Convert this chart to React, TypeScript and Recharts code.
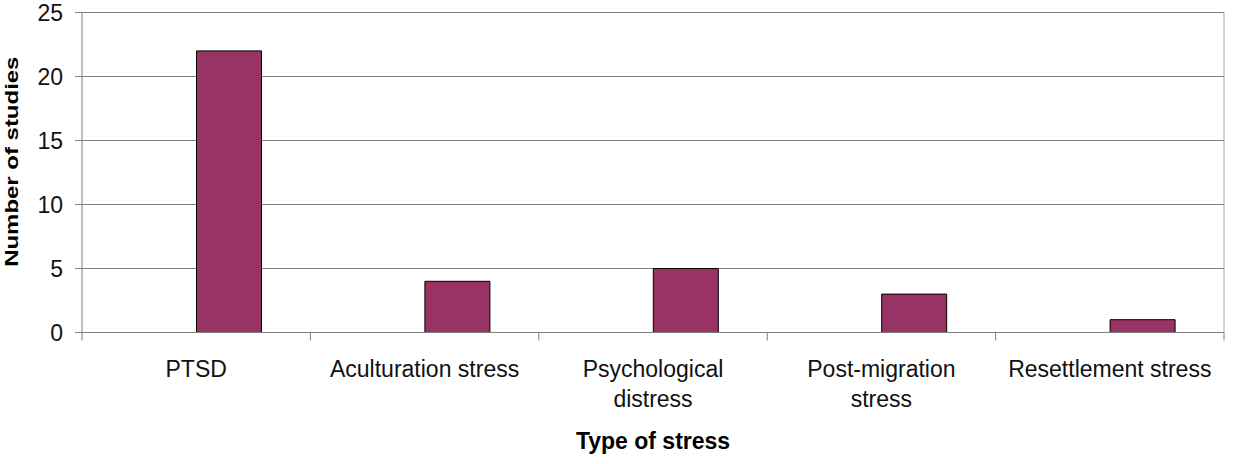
import React from 'react';
import { BarChart, Bar, XAxis, YAxis, CartesianGrid, Rectangle } from 'recharts';

// Number of studies per type of stress
const stressTypes = [
  'PTSD',
  'Aculturation stress',
  'Psychological distress',
  'Post-migration stress',
  'Resettlement stress',
];
const stressLabelLines = [
  ['PTSD'],
  ['Aculturation stress'],
  ['Psychological', 'distress'],
  ['Post-migration', 'stress'],
  ['Resettlement stress'],
];
const studyCounts = [22, 4, 5, 3, 1];
const yTicks = [0, 5, 10, 15, 20, 25];

const data = stressTypes.map((type, i) => ({ type, studies: studyCounts[i] }));

const FONT = '"Liberation Sans", Arial, sans-serif';
const AXIS_GREY = '#808080';

// Category axis tick: separators at band edges plus wrapped labels
const CategoryTick = (props: any) => {
  const { x, y, index, payload, visibleTicksCount, width } = props;
  const band = payload && payload.offset ? payload.offset * 2 : width / visibleTicksCount;
  const left = x - band / 2;
  const lines = stressLabelLines[index] || [String(payload.value)];
  return (
    <g>
      <line x1={left} x2={left} y1={y} y2={y + 8} stroke={AXIS_GREY} strokeWidth={1} />
      {index === visibleTicksCount - 1 && (
        <line x1={left + band} x2={left + band} y1={y} y2={y + 8} stroke={AXIS_GREY} strokeWidth={1} />
      )}
      <text x={x} y={y + 44} textAnchor="middle" fontSize={23} fill="#111" fontFamily={FONT}>
        {lines.map((l, i) => (
          <tspan key={i} x={x} dy={i === 0 ? 0 : 30}>
            {l}
          </tspan>
        ))}
      </text>
    </g>
  );
};

// Bars sit in the right half of each category
const OffsetBar = (props: any) => {
  const { x, y, width, height, fill } = props;
  return (
    <Rectangle
      x={x + width / 2}
      y={y}
      width={width}
      height={height}
      fill={fill}
      stroke="#000"
      strokeWidth={1}
    />
  );
};

const XTitle = (props: any) => {
  const { viewBox } = props;
  const cx = viewBox.x + viewBox.width / 2;
  return (
    <text x={cx} y={449} textAnchor="middle" fontSize={23} fontWeight="bold" fill="#000" fontFamily={FONT}>
      Type of stress
    </text>
  );
};

const YTitle = () => (
  <text
    transform="translate(17.5,161.7) rotate(-90) scale(1.37,1)"
    x={0}
    y={0}
    textAnchor="middle"
    fontSize={17.5}
    fontWeight="bold"
    fill="#000"
    fontFamily={FONT}
  >
    Number of studies
  </text>
);

export default function App() {
  return (
    <div style={{ position: 'absolute', left: 0, top: 0, background: '#fff' }}>
      <BarChart
        width={1234}
        height={464}
        data={data}
        margin={{ top: 12.5, right: 9, bottom: 0, left: 0 }}
        style={{ fontFamily: FONT }}
      >
        <CartesianGrid vertical={false} stroke={AXIS_GREY} strokeWidth={1} />
        <XAxis
          dataKey="type"
          height={131.5}
          tickLine={false}
          tickSize={0}
          tickMargin={0}
          axisLine={{ stroke: AXIS_GREY, strokeWidth: 1 }}
          tick={<CategoryTick />}
          interval={0}
          label={<XTitle />}
        />
        <YAxis
          width={82}
          domain={[0, 25]}
          ticks={yTicks}
          tickSize={7}
          tickMargin={12}
          tickLine={{ stroke: AXIS_GREY, strokeWidth: 1 }}
          axisLine={{ stroke: AXIS_GREY, strokeWidth: 1 }}
          tick={{ fontSize: 23, fill: '#111', fontFamily: FONT }}
          label={<YTitle />}
        />
        <YAxis
          yAxisId="r"
          orientation="right"
          width={1}
          domain={[0, 25]}
          tick={false}
          tickLine={false}
          axisLine={{ stroke: '#a6a6a6', strokeWidth: 1 }}
        />
        <Bar dataKey="studies" fill="#993366" barSize={65} shape={<OffsetBar />} isAnimationActive={false} />
      </BarChart>
    </div>
  );
}
